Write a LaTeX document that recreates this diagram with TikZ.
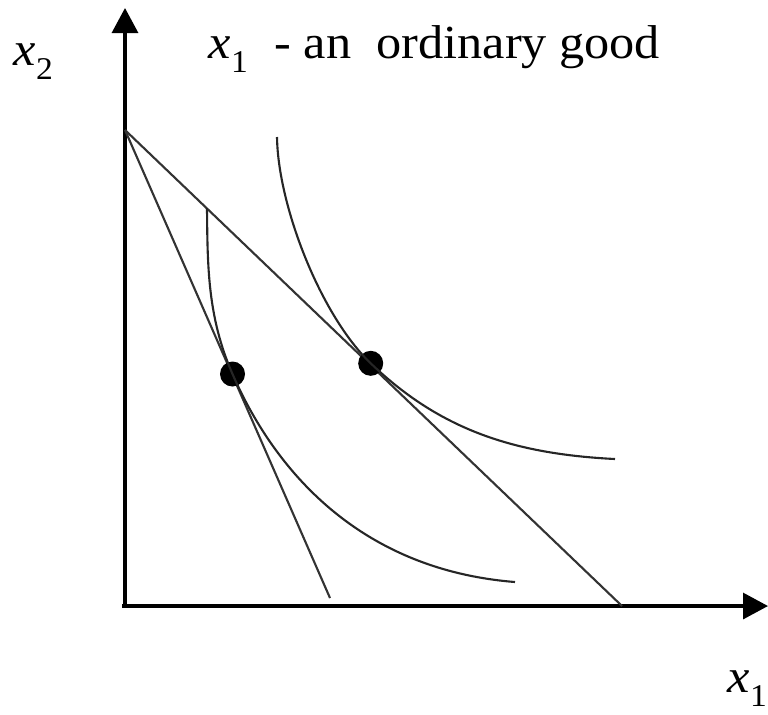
\documentclass[tikz,border=0pt]{standalone}
\usepackage{fontspec}
\setmainfont{Liberation Serif}[FakeStretch=1.06]
\usetikzlibrary{arrows.meta}

\newcommand{\lbl}[2]{\textit{#1}\raisebox{-4pt}{\fontsize{9}{10}\selectfont #2}}

\begin{document}
\begin{tikzpicture}[x=0.01cm,y=0.01cm,
  axis/.style={line width=0.9pt,-{Triangle[width=0.26cm,length=0.25cm]}},
  budget/.style={line width=0.6pt,black!80},
  icurve/.style={line width=0.6pt,black!85},
  dot/.style={circle,fill=black,inner sep=0pt,minimum size=0.25cm},
  txt/.style={inner sep=0pt,anchor=base west,font=\fontsize{13.5}{16}\selectfont}]
\useasboundingbox (-125,-108) rectangle (643,606);
% axes
\coordinate (O) at (0,0);
\coordinate (ytip) at (0,598);
\coordinate (xtip) at (643,0);
\draw[axis] (O) -- (ytip);
\draw[axis] (-3,0) -- (xtip);
\node[txt] (ylab) at (-112,541) {\lbl{x}{2}};
\node[txt] (xlab) at (602,-86) {\lbl{x}{1}};
\node[txt] (title) at (83,548) {\lbl{x}{1}\hspace{4pt} - an\ \ ordinary good};
% budget lines
\coordinate (A) at (0,476);
\coordinate (B1) at (497,0);
\coordinate (B2) at (205,8);
\draw[budget] (A) -- (B1);
\draw[budget] (A) -- (B2);
% optimal bundles
\node[dot] (E1) at (107.5,232) {};
\node[dot] (E2) at (245.7,242.7) {};
% indifference curves
\draw[icurve] (82,398) .. controls (82.5,340) and (82.5,289) .. (E1.center)
  .. controls (152.5,129) and (240,36) .. (390,24);
\draw[icurve] (152,469) .. controls (153,400) and (195.7,290.6) .. (E2.center)
  .. controls (315.7,175.6) and (390,152) .. (490,147);
\end{tikzpicture}
\end{document}
